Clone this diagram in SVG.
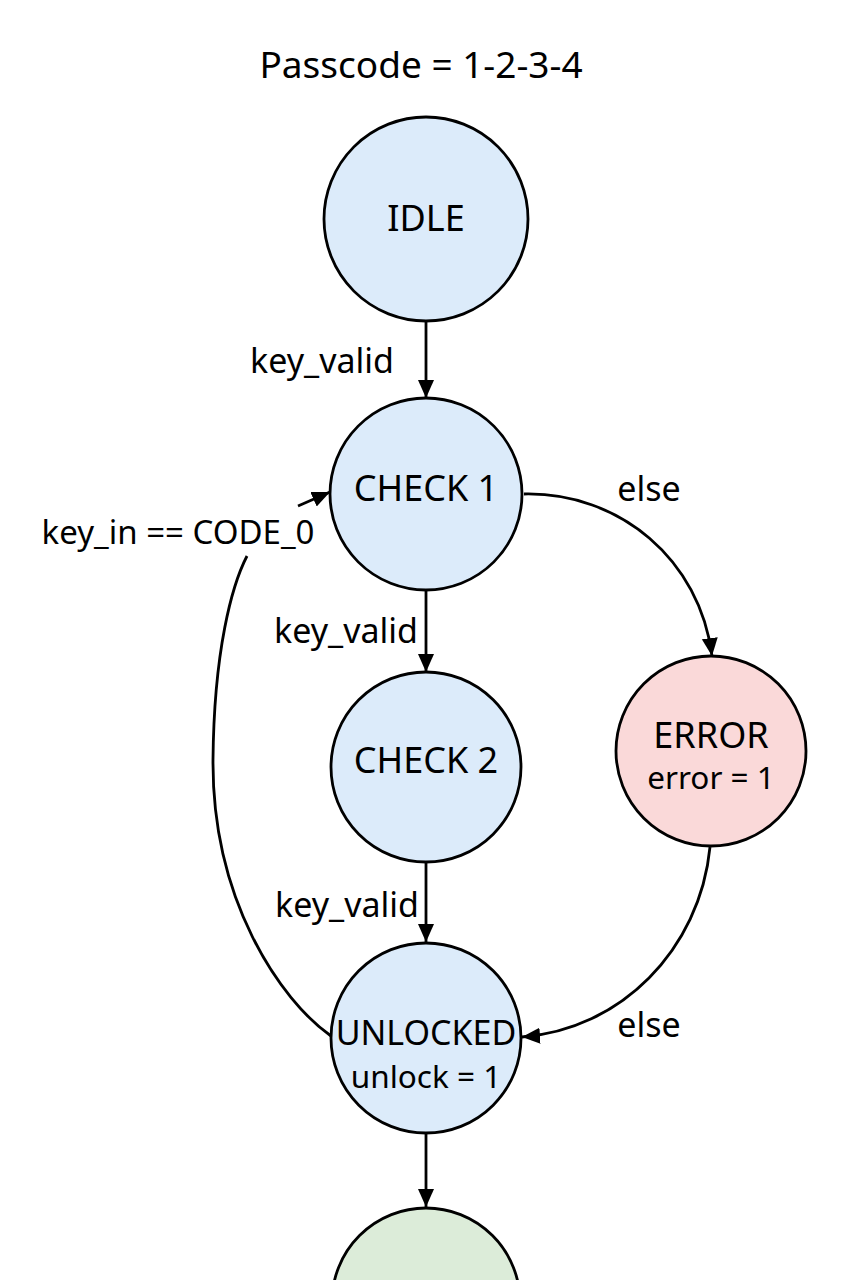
<svg xmlns="http://www.w3.org/2000/svg" width="853" height="1280" viewBox="0 0 853 1280">
<defs>
<marker id="arr" markerUnits="userSpaceOnUse" markerWidth="20" markerHeight="18" refX="18" refY="9" orient="auto">
<path d="M0,1 L18,9 L0,17 Z" fill="#000"/>
</marker>
<style>
.node{stroke:#000;stroke-width:2.8}
.blue{fill:#dcebfa}
.red{fill:#fad9d9}
.green{fill:#dcecd9}
.t{font-family:"Noto Sans","Open Sans",sans-serif;fill:#000;text-anchor:middle}
.n{font-size:36px}
.s{font-size:31.5px}
.lbl{font-size:34px}
.edge{fill:none;stroke:#000;stroke-width:2.8}
</style>
</defs>
<rect width="853" height="1280" fill="#fff"/>
<text class="t" x="421" y="78" font-size="37">Passcode = 1-2-3-4</text>
<g id="connectors">
<path class="edge" d="M426 321 L426 398" marker-end="url(#arr)"/>
<path class="edge" d="M426 591 L426 672" marker-end="url(#arr)"/>
<path class="edge" d="M426 863 L426 942" marker-end="url(#arr)"/>
<path class="edge" d="M426 1134 L426 1207" marker-end="url(#arr)"/>
<path class="edge" d="M524 494 C620 492 700 560 712 656" marker-end="url(#arr)"/>
<path class="edge" d="M710 847 C700 950 620 1030 522 1037" marker-end="url(#arr)"/>
<path class="edge" d="M331 1036 C280 1000 212 900 213 760 C214 650 232 585 247 556"/>
<path class="edge" d="M298 506 L330 492" marker-end="url(#arr)"/>
<text class="t lbl" x="322" y="373">key_valid</text>
<text class="t lbl" x="346" y="643">key_valid</text>
<text class="t lbl" x="347" y="917">key_valid</text>
<text class="t lbl" x="649" y="501">else</text>
<text class="t lbl" x="649" y="1037">else</text>
<text class="t" x="178" y="544" font-size="33">key_in == CODE_0</text>
</g>
<g id="idle">
<circle class="node blue" cx="426" cy="219" r="102"/>
<text class="t n" x="426" y="231">IDLE</text>
</g>
<g id="check1">
<circle class="node blue" cx="426" cy="494" r="96"/>
<text class="t n" x="426" y="501">CHECK 1</text>
</g>
<g id="check2">
<circle class="node blue" cx="426" cy="767" r="95"/>
<text class="t n" x="426" y="773">CHECK 2</text>
</g>
<g id="error">
<circle class="node red" cx="711" cy="751" r="95"/>
<text class="t n" x="711" y="748">ERROR</text>
<text class="t s" x="711" y="789">error = 1</text>
</g>
<g id="unlocked">
<circle class="node blue" cx="426" cy="1038" r="95"/>
<text class="t" x="426" y="1045" font-size="34">UNLOCKED</text>
<text class="t s" x="426" y="1088">unlock = 1</text>
</g>
<g id="final">
<circle class="node green" cx="426" cy="1302" r="94"/>
</g>
</svg>
